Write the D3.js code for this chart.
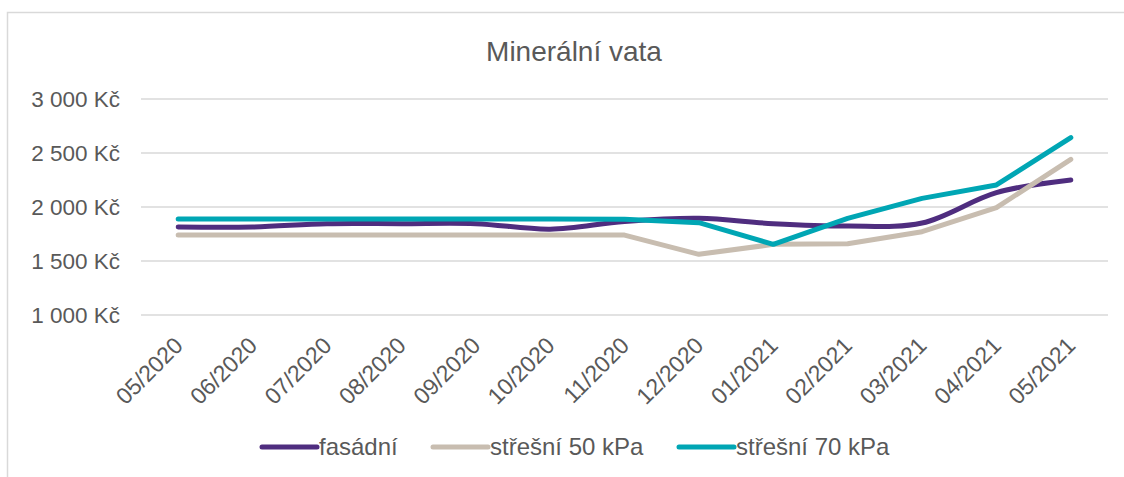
<!DOCTYPE html>
<html>
<head>
<meta charset="utf-8">
<script src="https://cdn.jsdelivr.net/npm/d3@7"></script>
<style>
  body { margin: 0; background: #fff; }
  text { font-family: "Liberation Sans", Arial, sans-serif; fill: #595959; }
</style>
</head>
<body>
<div id="chart"></div>
<script>
// data
var months = ["05/2020", "06/2020", "07/2020", "08/2020", "09/2020", "10/2020", "11/2020",
              "12/2020", "01/2021", "02/2021", "03/2021", "04/2021", "05/2021"];
var fasadni   = [1815, 1815, 1846, 1846, 1846, 1795, 1866, 1895, 1846, 1824, 1852, 2133, 2250];
var stresni50 = [1740, 1740, 1740, 1740, 1740, 1740, 1740, 1562, 1654, 1660, 1771, 1994, 2441];
var stresni70 = [1890, 1890, 1890, 1890, 1890, 1890, 1886, 1855, 1654, 1895, 2080, 2204, 2642];
var yTicks = [1000, 1500, 2000, 2500, 3000];

var series = [
  { name: "fasádní", values: fasadni, color: "#4f2d7f", smooth: true },
  { name: "střešní 50 kPa", values: stresni50, color: "#c8bdb0", smooth: false },
  { name: "střešní 70 kPa", values: stresni70, color: "#00a6b4", smooth: false }
];

var W = 1124, H = 477;
var svg = d3.select("#chart").append("svg")
  .attr("width", W).attr("height", H);

// chart frame
svg.append("rect")
  .attr("x", 7.5).attr("y", 12.5)
  .attr("width", 1140).attr("height", 500)
  .attr("fill", "none").attr("stroke", "#d9d9d9").attr("stroke-width", 1.5);

svg.append("text")
  .attr("x", 574).attr("y", 61)
  .attr("text-anchor", "middle")
  .style("font-size", "28px")
  .text("Minerální vata");

var x = d3.scaleBand().domain(months).range([141, 1108]);
var y = d3.scaleLinear().domain([1000, 3000]).range([315, 99]);

// gridlines
svg.append("g").selectAll("line")
  .data(yTicks).enter().append("line")
  .attr("x1", 141).attr("x2", 1108)
  .attr("y1", function(d) { return y(d); })
  .attr("y2", function(d) { return y(d); })
  .attr("stroke", "#d9d9d9").attr("stroke-width", 1.5);

// y axis labels
var yAxis = d3.axisLeft(y).tickValues(yTicks).tickSize(0).tickPadding(0)
  .tickFormat(function(d) { return d3.format(",")(d).replace(",", " ") + " Kč"; });
var gy = svg.append("g").attr("transform", "translate(120,0)").call(yAxis);
gy.select(".domain").remove();
gy.selectAll("text").style("font-size", "22.5px").attr("fill", "#595959")
  .style("font-family", "Liberation Sans, Arial, sans-serif");

// x axis labels
var xAxis = d3.axisBottom(x).tickSize(0).tickPadding(0);
var gx = svg.append("g").attr("transform", "translate(0,315)").call(xAxis);
gx.select(".domain").remove();
gx.selectAll("text")
  .style("font-size", "23px").attr("fill", "#595959")
  .style("font-family", "Liberation Sans, Arial, sans-serif")
  .attr("text-anchor", "end")
  .attr("dy", "0")
  .attr("transform", "translate(6,32) rotate(-45)");

// lines
series.forEach(function(s) {
  var line = d3.line()
    .x(function(d, i) { return x(months[i]) + x.bandwidth() / 2; })
    .y(function(d) { return y(d); })
    .curve(s.smooth ? d3.curveCatmullRom : d3.curveLinear);
  svg.append("path")
    .datum(s.values)
    .attr("d", line)
    .attr("fill", "none")
    .attr("stroke", s.color)
    .attr("stroke-width", 5)
    .attr("stroke-linecap", "round")
    .attr("stroke-linejoin", "round");
});

// legend
var legendX = [262, 433, 679];
var lg = svg.append("g").selectAll("g")
  .data(series).enter().append("g")
  .attr("transform", function(d, i) { return "translate(" + legendX[i] + ",447)"; });
lg.append("line")
  .attr("x1", 0).attr("x2", 55).attr("y1", 0).attr("y2", 0)
  .attr("stroke", function(d) { return d.color; })
  .attr("stroke-width", 5).attr("stroke-linecap", "round");
lg.append("text")
  .attr("x", 57).attr("y", 8)
  .style("font-size", "24px")
  .text(function(d) { return d.name; });
</script>
</body>
</html>
